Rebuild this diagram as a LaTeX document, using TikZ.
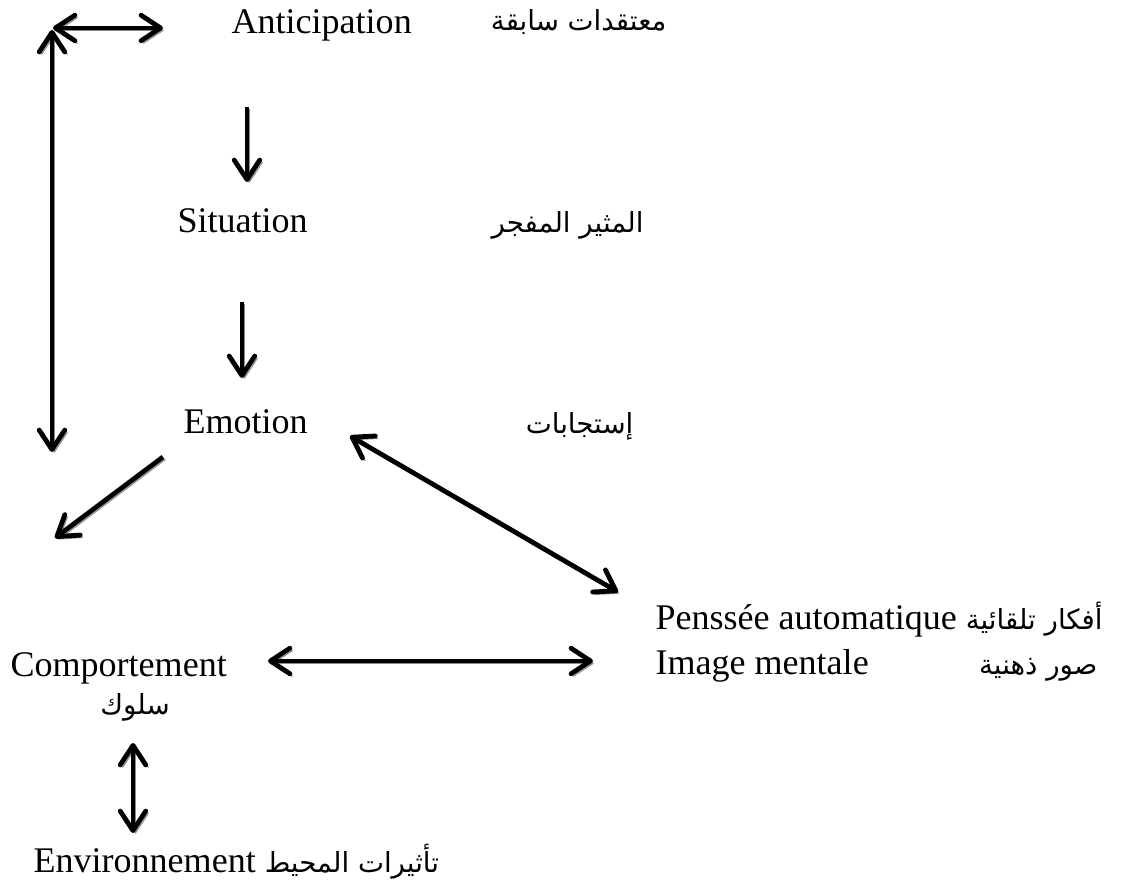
\documentclass[tikz,border=0pt]{standalone}
\usepackage{fontspec}
\setmainfont{Liberation Serif}
\newfontfamily\arabicfont[Script=Arabic]{DejaVu Sans}
\TeXXeTstate=1
\usetikzlibrary{arrows.meta}
\newcommand{\arabtxt}[1]{{\arabicfont\fontsize{9.2}{11}\selectfont\beginR #1\endR}}
\tikzset{
  lbl/.style={inner sep=0pt, font=\fontsize{12}{14}\selectfont},
  tip/.style={line width=1.6pt, -{Straight Barb[length=6.5pt,width=8.5pt,round]}},
  dtip/.style={line width=1.6pt, {Straight Barb[length=6.5pt,width=8.5pt,round]}-{Straight Barb[length=6.5pt,width=8.5pt,round]}},
  shade/.style={preaction={draw=black!45, transform canvas={shift={(0.8pt,-0.8pt)}}}}
}
\begin{document}
\begin{tikzpicture}[x=0.333pt, y=-0.333pt]
        \useasboundingbox (0,0) rectangle (1124,881);
        % texts
        \node [lbl, anchor=base west] (ant) at (231,33) {Anticipation};
        \node [lbl, anchor=base east] (antar) at (667,31) {\arabtxt{معتقدات سابقة}};
        \node [lbl, anchor=base west] (sit) at (177,232) {Situation};
        \node [lbl, anchor=base east] (sitar) at (644,232) {\arabtxt{المثير المفجر}};
        \node [lbl, anchor=base west] (emo) at (183,433) {Emotion};
        \node [lbl, anchor=base east] (emoar) at (634,433) {\arabtxt{إستجابات}};
        \node [lbl, anchor=base west] (pens) at (655,630) {Penssée automatique \arabtxt{أفكار تلقائية}};
        \node [lbl, anchor=base west] (img) at (655,675) {Image mentale};
        \node [lbl, anchor=base east] (imgar) at (1098,675) {\arabtxt{صور ذهنية}};
        \node [lbl, anchor=base west] (comp) at (10,676) {Comportement};
        \node [lbl, anchor=base] (compar) at (135,715) {\arabtxt{سلوك}};
        \node [lbl, anchor=base west] (env) at (33,873) {Environnement \arabtxt{تأثيرات المحيط}};

        % arrow ends
        \coordinate (c1) at (53,28);   \coordinate (c2) at (163,28);
        \coordinate (v1) at (52,30);   \coordinate (v2) at (52,452);
        \coordinate (s1) at (247,107); \coordinate (s2) at (247,182);
        \coordinate (e1) at (242,302); \coordinate (e2) at (242,378);
        \coordinate (d1) at (163,457); \coordinate (d2) at (55,538);
        \coordinate (p1) at (350,436); \coordinate (p2) at (618,592);
        \coordinate (h1) at (268,661); \coordinate (h2) at (593,661);
        \coordinate (b1) at (133,743); \coordinate (b2) at (133,833);

        \draw [dtip, shade] (c1) -- (c2);
        \draw [dtip, shade] (v1) -- (v2);
        \draw [tip, shade] (s1) -- (s2);
        \draw [tip, shade] (e1) -- (e2);
        \draw [tip, shade] (d1) -- (d2);
        \draw [dtip, shade] (p1) -- (p2);
        \draw [dtip, shade] (h1) -- (h2);
        \draw [dtip, shade] (b1) -- (b2);
      \end{tikzpicture}
\end{document}
